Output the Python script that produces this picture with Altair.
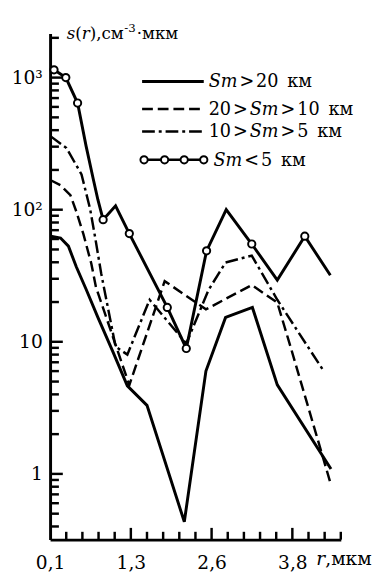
import altair as alt
import pandas as pd

# ---- data (r in мкм, s(r) in см^-3·мкм^-1) ----
r_sm20 = [0.11, 0.26, 0.38, 0.50, 0.65, 0.83, 1.06, 1.28, 1.58, 2.15, 2.48, 2.78, 3.19, 3.57, 4.39]
s_sm20 = [63, 61, 53, 37, 25, 15.3, 8.4, 4.64, 3.3, 0.434, 6.0, 15.3, 18.2, 4.72, 1.09]

r_sm20_10 = [0.11, 0.26, 0.41, 0.50, 0.61, 0.73, 0.80, 1.31, 1.85, 2.48, 3.18, 3.57, 3.78, 4.38]
s_sm20_10 = [167, 153, 129, 97, 65, 39, 26, 4.7, 28.8, 17.6, 26.9, 19.8, 8.9, 0.86]

r_sm10_5 = [0.11, 0.35, 0.58, 0.71, 0.79, 0.88, 1.10, 1.28, 1.62, 2.18, 2.52, 2.78, 3.18, 3.57, 4.27]
s_sm10_5 = [359, 293, 185, 102, 61, 33, 9.2, 8.0, 20.8, 9.7, 24.7, 39.8, 44.9, 20.8, 6.1]

r_sm5 = [0.16, 0.34, 0.52, 0.65, 0.76, 0.83, 0.91, 1.10, 1.31, 1.89, 2.18, 2.49, 2.79, 3.18, 3.57, 3.99, 4.38]
s_sm5 = [1146, 1000, 642, 303, 170, 119, 84, 107, 66, 18.2, 8.9, 48.8, 100, 55, 29.3, 63, 31.9]
m_sm5 = [1, 1, 1, 0, 0, 0, 1, 0, 1, 1, 1, 1, 0, 1, 0, 1, 0]

x_tick_labels = ["0,1", "1,3", "2,6", "3,8"]
y_tick_values = [1, 10, 100, 1000]
y_tick_labels = ["1", "10", "10²", "10³"]

# legend tokens: (text, italic, gap before)
legend_rows = [
    [("Sm", True, 0), (">", False, 2), ("20", False, 2), ("км", False, 9)],
    [("20", False, 0), (">", False, 2), ("Sm", True, 2), (">", False, 2), ("10", False, 2), ("км", False, 9)],
    [("10", False, 0), (">", False, 2), ("Sm", True, 2), (">", False, 2), ("5", False, 2), ("км", False, 9)],
    [("Sm", True, 0), ("<", False, 2), ("5", False, 2), ("км", False, 9)],
]
title_tokens = [("s", True, 17, 0), ("(", False, 17, 0), ("r", True, 17, 0), ("),см", False, 17, 0),
                ("-3", False, 12, 1), ("·мкм", False, 17, 1)]

FONT = "DejaVu Serif"
W_EM = {"0": .636, "1": .636, "2": .636, "3": .636, "5": .636, ">": .838, "<": .838, "S": .685,
        "m": .948, "к": .62, "м": .75, ",": .318, "s": .513, "r": .478, "(": .39, ")": .39,
        "с": .56, "·": .318, "-": .338, " ": .318}

def tw(s, size):
    return sum(W_EM.get(c, 0.6) for c in s) * size

W, H = 297, 517
X0, X1 = 0.1, 0.1 + 18 * 3.7 / 15
xs = alt.Scale(domain=[X0, X1], nice=False, zero=False)
ys = alt.Scale(type="log", domain=[0.318, 2154], nice=False)

def frame(r, s):
    return pd.DataFrame({"r": r, "s": s})

dummy = pd.DataFrame({"d": [0]})

x_major = [X0 + k * 3.7 / 15 for k in (0, 5, 10, 15)]
x_minor = [X0 + k * 3.7 / 15 for k in range(19) if k % 5 != 0]
y_minor = [v * m for m in (0.1, 1, 10, 100) for v in range(2, 10) if 0.318 < v * m < 2154] + [2000]

x_label_expr = "[" + ",".join("'%s'" % t for t in x_tick_labels) + "][round((datum.value-0.1)/(3.7/3))]"
y_label_expr = ("datum.value<5?'%s':datum.value<50?'%s':datum.value<500?'%s':'%s'" % tuple(y_tick_labels))

axis_common = dict(ticks=False, grid=False, domainColor="black", domainWidth=3,
                   labelFont=FONT, labelFontSize=19, labelColor="black", title=None,
                   labelOverlap=False, labelFlush=False)
AX = alt.Axis(values=x_major, labelExpr=x_label_expr, labelPadding=14, **axis_common)
AY = alt.Axis(values=y_tick_values, labelExpr=y_label_expr, labelPadding=8, **axis_common)

def xenc(f="r"):
    return alt.X(f + ":Q", scale=xs, axis=AX)

def yenc(f="s"):
    return alt.Y(f + ":Q", scale=ys, axis=AY)

DASH = [11, 5]
DASHDOT = [13, 4, 3, 4]

def series(r, s, **mk):
    return alt.Chart(frame(r, s)).mark_line(color="black", **mk).encode(x=xenc(), y=yenc())

solid = series(r_sm20, s_sm20, strokeWidth=3)
dashed = series(r_sm20_10, s_sm20_10, strokeWidth=2.5, strokeDash=DASH)
dashdot = series(r_sm10_5, s_sm10_5, strokeWidth=2.5, strokeDash=DASHDOT)
circ_line = series(r_sm5, s_sm5, strokeWidth=3)
circ_df = pd.DataFrame({"r": r_sm5, "s": s_sm5, "m": m_sm5})
circ_pts = alt.Chart(circ_df).transform_filter("datum.m == 1").mark_point(
    shape="circle", size=55, filled=True, fill="white", stroke="black", strokeWidth=2, opacity=1, fillOpacity=1
).encode(x=xenc(), y=yenc())

def yticks(vals, length):
    return alt.Chart(pd.DataFrame({"s": vals})).mark_rule(color="black", strokeWidth=2.5).encode(
        y=yenc(), x=alt.value(0), x2=alt.value(length))

def xticks(vals, length):
    return alt.Chart(pd.DataFrame({"r": vals})).mark_rule(color="black", strokeWidth=2.5).encode(
        x=xenc(), y=alt.value(H), y2=alt.value(H - length))

layers = [solid, dashed, dashdot, circ_line, circ_pts,
          yticks(y_tick_values, 13), yticks(y_minor, 9), xticks(x_major[1:], 12), xticks(x_minor, 8)]

def txt(s, x, y, size=17, italic=False):
    return alt.Chart(dummy).mark_text(text=s, font=FONT, fontSize=size, color="black",
                                      fontStyle="italic" if italic else "normal",
                                      align="left", baseline="alphabetic").encode(
        x=alt.value(x), y=alt.value(y))

# y title s(r),см^-3·мкм (top-left)
cx = 17
for s, it, size, gap in title_tokens:
    cx += gap
    yy = 6 if size == 17 else -2
    layers.append(txt(s, cx, yy, size=size, italic=it))
    cx += tw(s, size)

# x title r,мкм
layers += [txt("r", 272, 543, size=19, italic=True), txt(",мкм", 272 + tw("r", 19), 543, size=19)]

# legend
row_y = [49, 77, 100, 129]
lx0, lx1 = 94, 157
layers.append(alt.Chart(dummy).mark_rule(color="black", strokeWidth=3).encode(
    x=alt.value(lx0), x2=alt.value(lx1), y=alt.value(row_y[0])))
layers.append(alt.Chart(dummy).mark_rule(color="black", strokeWidth=2.5, strokeDash=DASH).encode(
    x=alt.value(lx0), x2=alt.value(lx1), y=alt.value(row_y[1])))
layers.append(alt.Chart(dummy).mark_rule(color="black", strokeWidth=2.5, strokeDash=DASHDOT).encode(
    x=alt.value(lx0), x2=alt.value(lx1), y=alt.value(row_y[2])))
layers.append(alt.Chart(dummy).mark_rule(color="black", strokeWidth=2.5).encode(
    x=alt.value(lx0 + 2), x2=alt.value(lx1), y=alt.value(row_y[3])))
for px in (96, 117, 137, 157):
    layers.append(alt.Chart(dummy).mark_point(shape="circle", size=55, filled=True, fill="white",
                                              stroke="black", strokeWidth=2, opacity=1, fillOpacity=1).encode(
        x=alt.value(px), y=alt.value(row_y[3])))

LS = 18
row_x0 = [162, 162, 162, 167]
for row, x0, yy in zip(legend_rows, row_x0, row_y):
    cx = x0
    for seg, ital, gap in row:
        cx += gap
        layers.append(txt(seg, cx, yy + 6, size=LS, italic=ital))
        cx += tw(seg, LS)

chart = alt.layer(*layers).properties(
    width=W, height=H, autosize="none",
    padding={"left": 43, "top": 20, "right": 38, "bottom": 30},
).configure_view(stroke=None)

chart.save("out.html", embed_options={"renderer": "svg", "actions": False})
